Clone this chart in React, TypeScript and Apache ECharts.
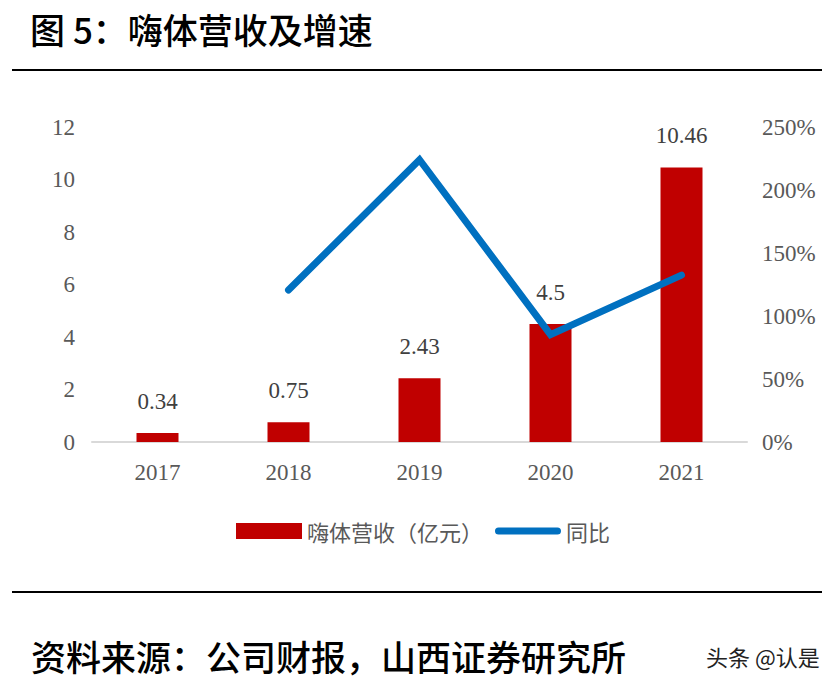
import * as echarts from "echarts";
import React, { useEffect, useRef } from "react";

const years = ["2017", "2018", "2019", "2020", "2021"];
const revenue = [0.34, 0.75, 2.43, 4.5, 10.46];
const growth = [null, 120.6, 224.0, 85.2, 132.4];

const serif = "'Liberation Serif', 'Noto Sans CJK SC', serif";
const cjk = "'Noto Sans CJK SC', sans-serif";

export default function App() {
  const chartRef = useRef<HTMLDivElement>(null);

  useEffect(() => {
    if (!chartRef.current) return;
    const myChart = echarts.init(chartRef.current, null, { renderer: "svg" });

    const option = {
      animation: false,
      backgroundColor: "#ffffff",
      graphic: [
        {
          type: "text",
          left: 30,
          top: 11,
          style: { text: "图 5：嗨体营收及增速", font: `500 35px ${cjk}`, fill: "#000" },
        },
        {
          type: "line",
          shape: { x1: 12, y1: 70, x2: 822, y2: 70 },
          style: { stroke: "#000", lineWidth: 2 },
        },
        {
          type: "line",
          shape: { x1: 12, y1: 592, x2: 822, y2: 592 },
          style: { stroke: "#000", lineWidth: 2 },
        },
        {
          type: "text",
          left: 31,
          top: 638,
          style: { text: "资料来源：公司财报，山西证券研究所", font: `500 35px ${cjk}`, fill: "#000" },
        },
        {
          type: "text",
          left: 706,
          top: 645,
          style: { text: "头条 @认是", font: `22px ${cjk}`, fill: "#222" },
        },
      ],
      legend: {
        left: 231,
        top: 515,
        itemWidth: 66,
        itemHeight: 16,
        itemGap: 12,
        textStyle: { fontFamily: cjk, fontSize: 22, color: "#595959" },
        data: [
          { name: "嗨体营收（亿元）", icon: "rect" },
          {
            name: "同比",
            icon: "path://M4,0 L70,0 A4,4 0 0 1 70,8 L4,8 A4,4 0 0 1 4,0 Z",
          },
        ],
      },
      grid: { left: 92, right: 88, top: 127, bottom: 245 },
      xAxis: {
        type: "category",
        data: years,
        axisLine: { lineStyle: { color: "#D9D9D9", width: 2 } },
        axisTick: { show: false },
        axisLabel: { fontFamily: serif, fontSize: 23, color: "#595959", margin: 19 },
      },
      yAxis: [
        {
          type: "value",
          min: 0,
          max: 12,
          interval: 2,
          splitLine: { show: false },
          axisLine: { show: false },
          axisTick: { show: false },
          axisLabel: { fontFamily: serif, fontSize: 23, color: "#595959", margin: 17 },
        },
        {
          type: "value",
          min: 0,
          max: 250,
          interval: 50,
          splitLine: { show: false },
          axisLine: { show: false },
          axisTick: { show: false },
          axisLabel: {
            fontFamily: serif,
            fontSize: 23,
            color: "#595959",
            margin: 15,
            formatter: "{value}%",
          },
        },
      ],
      series: [
        {
          name: "嗨体营收（亿元）",
          type: "bar",
          data: revenue,
          barWidth: 42,
          itemStyle: { color: "#C00000" },
          label: {
            show: true,
            position: "top",
            distance: 20,
            fontFamily: serif,
            fontSize: 23,
            color: "#404040",
          },
        },
        {
          name: "同比",
          type: "line",
          yAxisIndex: 1,
          data: growth,
          showSymbol: false,
          symbol: "none",
          lineStyle: { color: "#0070C0", width: 7, cap: "round", join: "miter" },
          itemStyle: { color: "#0070C0" },
        },
      ],
    };

    myChart.setOption(option);
    return () => {
      myChart.dispose();
    };
  }, []);

  return (
    <div
      ref={chartRef}
      style={{ position: "fixed", left: 0, top: 0, width: "835px", height: "687px" }}
    ></div>
  );
}
